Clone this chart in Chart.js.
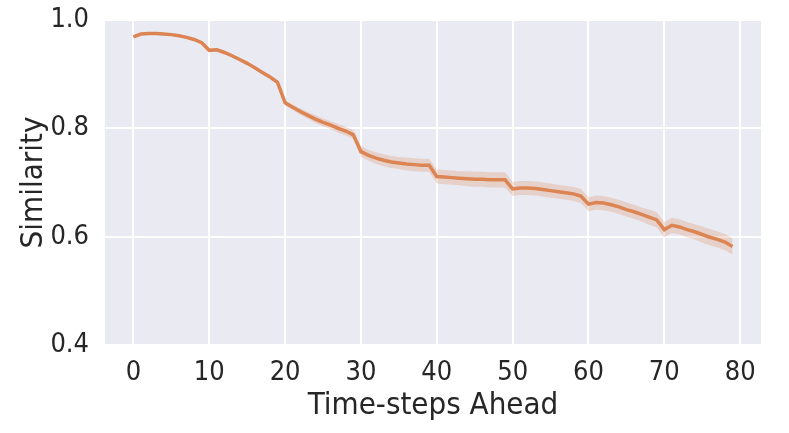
<!DOCTYPE html>
<html>
<head>
<meta charset="utf-8">
<script src="https://cdn.jsdelivr.net/npm/chart.js@4"></script>
<style>
  html, body { margin: 0; padding: 0; background: #ffffff; }
  #wrap { width: 789px; height: 433px; }
</style>
</head>
<body>
<div id="wrap"><canvas id="chart" width="789" height="433"></canvas></div>
<script>
  // Mean similarity per step ahead (0..79).
  const similarity = [
    0.969, 0.974, 0.975, 0.975, 0.974, 0.973, 0.971, 0.968, 0.964, 0.958,
    0.944, 0.945, 0.940, 0.934, 0.927, 0.920, 0.912, 0.903, 0.895, 0.885,
    0.847, 0.839, 0.831, 0.824, 0.817, 0.811, 0.806, 0.800, 0.795, 0.788,
    0.757, 0.750, 0.745, 0.741, 0.738, 0.736, 0.734, 0.733, 0.732, 0.732,
    0.711, 0.710, 0.709, 0.708, 0.707, 0.706, 0.706, 0.705, 0.705, 0.705,
    0.688, 0.690, 0.690, 0.689, 0.687, 0.685, 0.683, 0.681, 0.679, 0.675,
    0.660, 0.663, 0.662, 0.659, 0.655, 0.650, 0.646, 0.641, 0.636, 0.631,
    0.613, 0.621, 0.618, 0.613, 0.609, 0.604, 0.599, 0.595, 0.590, 0.582,
  ];

  // Half-width of the shaded confidence band at each step.
  const bandHalfWidth = [
    0.002, 0.002, 0.002, 0.002, 0.002, 0.002, 0.002, 0.002, 0.002, 0.002,
    0.003, 0.003, 0.003, 0.003, 0.003, 0.003, 0.003, 0.003, 0.004, 0.004,
    0.005, 0.005, 0.006, 0.006, 0.007, 0.007, 0.007, 0.008, 0.008, 0.008,
    0.010, 0.010, 0.011, 0.011, 0.011, 0.011, 0.012, 0.012, 0.012, 0.012,
    0.013, 0.013, 0.013, 0.013, 0.014, 0.014, 0.014, 0.014, 0.014, 0.014,
    0.013, 0.013, 0.013, 0.013, 0.013, 0.013, 0.013, 0.013, 0.013, 0.013,
    0.013, 0.013, 0.013, 0.013, 0.013, 0.013, 0.013, 0.013, 0.014, 0.014,
    0.014, 0.014, 0.014, 0.014, 0.014, 0.015, 0.015, 0.015, 0.015, 0.015,
  ];

  const xTicks = [0, 10, 20, 30, 40, 50, 60, 70, 80];
  const yTicks = [0.4, 0.6, 0.8, 1.0];

  const ORANGE = '#dd8452';
  const BAND = 'rgba(221, 132, 82, 0.25)';
  const PANEL = '#eaeaf2';
  const INK = '#262626';
  const FONT = '"DejaVu Sans Condensed", "DejaVu Sans", sans-serif';

  const meanPoints = similarity.map((v, i) => ({ x: i, y: v }));
  const upperPoints = similarity.map((v, i) => ({ x: i, y: v + bandHalfWidth[i] }));
  const lowerPoints = similarity.map((v, i) => ({ x: i, y: v - bandHalfWidth[i] }));

  // seaborn "darkgrid" panel behind the grid
  const panelBackground = {
    id: 'panelBackground',
    beforeDraw(chart) {
      const { ctx, chartArea: a } = chart;
      ctx.save();
      ctx.fillStyle = PANEL;
      ctx.fillRect(a.left, a.top, a.right - a.left, a.bottom - a.top);
      ctx.restore();
    },
  };

  new Chart(document.getElementById('chart'), {
    type: 'line',
    data: {
      datasets: [
        {
          data: upperPoints,
          borderWidth: 0,
          pointRadius: 0,
          backgroundColor: BAND,
          fill: '+1',
        },
        {
          data: lowerPoints,
          borderWidth: 0,
          pointRadius: 0,
          fill: false,
        },
        {
          data: meanPoints,
          borderColor: ORANGE,
          borderWidth: 3.5,
          pointRadius: 0,
          fill: false,
        },
      ],
    },
    plugins: [panelBackground],
    options: {
      responsive: false,
      animation: false,
      layout: { padding: { left: 0, right: 28, top: 20, bottom: 0 } },
      plugins: {
        legend: { display: false },
        tooltip: { enabled: false },
      },
      scales: {
        x: {
          type: 'linear',
          min: -3.75,
          max: 82.75,
          afterBuildTicks: (scale) => {
            scale.ticks = xTicks.map((v) => ({ value: v }));
          },
          afterFit: (scale) => {
            scale.height = 88;
            scale.paddingLeft = 0;
            scale.paddingRight = 0;
          },
          grid: { color: '#ffffff', lineWidth: 2, drawTicks: false },
          border: { display: false },
          ticks: {
            color: INK,
            font: { family: FONT, size: 27 },
            padding: 12,
            maxRotation: 0,
          },
          title: {
            display: true,
            text: 'Time-steps Ahead',
            color: INK,
            font: { family: FONT, size: 31 },
            padding: { top: 0, bottom: 8 },
          },
        },
        y: {
          min: 0.4,
          max: 1.0,
          afterBuildTicks: (scale) => {
            scale.ticks = yTicks.map((v) => ({ value: v }));
          },
          afterFit: (scale) => {
            scale.width = 105;
            scale.paddingTop = 0;
            scale.paddingBottom = 0;
          },
          grid: { color: '#ffffff', lineWidth: 2, drawTicks: false },
          border: { display: false },
          ticks: {
            color: INK,
            font: { family: FONT, size: 27 },
            padding: 16,
            callback: (value) => value.toFixed(1),
          },
          title: {
            display: true,
            text: 'Similarity',
            color: INK,
            font: { family: FONT, size: 31 },
            padding: { top: 15, bottom: 0 },
          },
        },
      },
    },
  });
</script>
</body>
</html>
